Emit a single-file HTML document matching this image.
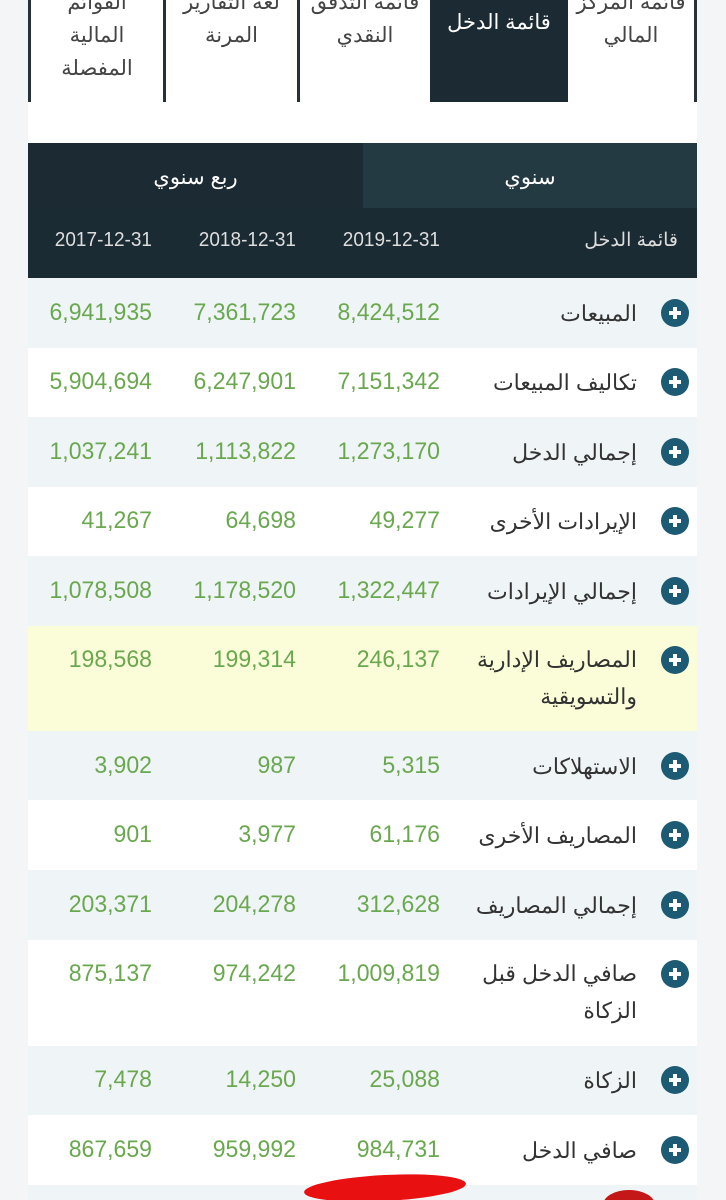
<!DOCTYPE html>
<html style="overflow:hidden;height:1200px"><head><meta charset="utf-8"><style>
body{margin:0;width:726px;height:1200px;background:#f4f5f6;position:relative;overflow:hidden;font-family:"Liberation Sans","Noto Sans CJK SC",sans-serif;}
.a{position:absolute;}
.content{left:28px;top:0;width:669px;height:1200px;background:#fff;}
.tab{position:absolute;top:-14px;height:114px;text-align:center;color:#444;font-size:21px;line-height:33px;}
.div{position:absolute;top:0;width:3px;height:102px;background:#263238;}
.row{position:absolute;left:28px;width:669px;}
.n{position:absolute;color:#6aa84f;font-size:24px;text-align:right;width:140px;transform:scaleX(0.96);transform-origin:right center;}
.lb{position:absolute;right:89px;color:#333;font-size:22px;text-align:right;direction:rtl;line-height:37px;}
.ic{position:absolute;left:661px;width:28px;height:28px;border-radius:50%;background:#1d5a73;}
.ic:before{content:"";position:absolute;left:8px;top:12px;width:12px;height:4px;background:#fff;}
.ic:after{content:"";position:absolute;left:12px;top:8px;width:4px;height:12px;background:#fff;}
.d{position:absolute;top:229px;width:140px;text-align:right;color:#ddd;font-size:20px;transform:scaleX(0.95);transform-origin:right center;}
</style></head><body>
<div class="a content"></div>
<div class="div" style="left:28px"></div>
<div class="div" style="left:163px"></div>
<div class="div" style="left:297px"></div>
<div class="div" style="left:694px"></div>
<div class="a" style="left:430px;top:0;width:138px;height:102px;background:#1c2b33"></div>
<div class="tab" style="left:31px;width:132px">القوائم<br>المالية<br>المفصلة</div>
<div class="tab" style="left:166px;width:131px">لغة التقارير<br>المرنة</div>
<div class="tab" style="left:300px;width:130px">قائمة التدفق<br>النقدي</div>
<div class="tab" style="left:430px;width:138px;color:#fff;top:6px">قائمة الدخل</div>
<div class="tab" style="left:568px;width:126px">قائمة المركز<br>المالي</div>

<div class="a" style="left:28px;top:143px;width:335px;height:65px;background:#1c2b33;color:#fff;font-size:21px;text-align:center;line-height:70px">ربع سنوي</div>
<div class="a" style="left:363px;top:143px;width:334px;height:65px;background:#243a43;color:#fff;font-size:21px;text-align:center;line-height:70px">سنوي</div>
<div class="a" style="left:28px;top:208px;width:669px;height:70px;background:#1b2b33"></div>
<div class="d" style="left:12px">2017-12-31</div>
<div class="d" style="left:156px">2018-12-31</div>
<div class="d" style="left:300px">2019-12-31</div>
<div class="a" style="left:520px;top:229px;width:158px;text-align:right;color:#ddd;font-size:19px">قائمة الدخل</div>

<div class="row" style="top:278px;height:70px;background:#eff4f6"></div>
<div class="row" style="top:417px;height:70px;background:#eff4f6"></div>
<div class="row" style="top:556px;height:70px;background:#eff4f6"></div>
<div class="row" style="top:626px;height:105px;background:#fbfdd8"></div>
<div class="row" style="top:731px;height:69px;background:#eff4f6"></div>
<div class="row" style="top:870px;height:70px;background:#eff4f6"></div>
<div class="row" style="top:1046px;height:69px;background:#eff4f6"></div>
<div class="row" style="top:1185px;height:15px;background:#eff4f6"></div>

<div class="n" style="left:12px;top:299px">6,941,935</div><div class="n" style="left:156px;top:299px">7,361,723</div><div class="n" style="left:300px;top:299px">8,424,512</div><div class="lb" style="top:295px">المبيعات</div><div class="ic" style="top:299px"></div>
<div class="n" style="left:12px;top:368px">5,904,694</div><div class="n" style="left:156px;top:368px">6,247,901</div><div class="n" style="left:300px;top:368px">7,151,342</div><div class="lb" style="top:364px">تكاليف المبيعات</div><div class="ic" style="top:368px"></div>
<div class="n" style="left:12px;top:438px">1,037,241</div><div class="n" style="left:156px;top:438px">1,113,822</div><div class="n" style="left:300px;top:438px">1,273,170</div><div class="lb" style="top:434px">إجمالي الدخل</div><div class="ic" style="top:438px"></div>
<div class="n" style="left:12px;top:507px">41,267</div><div class="n" style="left:156px;top:507px">64,698</div><div class="n" style="left:300px;top:507px">49,277</div><div class="lb" style="top:503px">الإيرادات الأخرى</div><div class="ic" style="top:507px"></div>
<div class="n" style="left:12px;top:577px">1,078,508</div><div class="n" style="left:156px;top:577px">1,178,520</div><div class="n" style="left:300px;top:577px">1,322,447</div><div class="lb" style="top:573px">إجمالي الإيرادات</div><div class="ic" style="top:577px"></div>
<div class="n" style="left:12px;top:646px">198,568</div><div class="n" style="left:156px;top:646px">199,314</div><div class="n" style="left:300px;top:646px">246,137</div><div class="lb" style="top:641px">المصاريف الإدارية<br>والتسويقية</div><div class="ic" style="top:646px"></div>
<div class="n" style="left:12px;top:752px">3,902</div><div class="n" style="left:156px;top:752px">987</div><div class="n" style="left:300px;top:752px">5,315</div><div class="lb" style="top:748px">الاستهلاكات</div><div class="ic" style="top:752px"></div>
<div class="n" style="left:12px;top:821px">901</div><div class="n" style="left:156px;top:821px">3,977</div><div class="n" style="left:300px;top:821px">61,176</div><div class="lb" style="top:817px">المصاريف الأخرى</div><div class="ic" style="top:821px"></div>
<div class="n" style="left:12px;top:891px">203,371</div><div class="n" style="left:156px;top:891px">204,278</div><div class="n" style="left:300px;top:891px">312,628</div><div class="lb" style="top:887px">إجمالي المصاريف</div><div class="ic" style="top:891px"></div>
<div class="n" style="left:12px;top:960px">875,137</div><div class="n" style="left:156px;top:960px">974,242</div><div class="n" style="left:300px;top:960px">1,009,819</div><div class="lb" style="top:955px">صافي الدخل قبل<br>الزكاة</div><div class="ic" style="top:960px"></div>
<div class="n" style="left:12px;top:1066px">7,478</div><div class="n" style="left:156px;top:1066px">14,250</div><div class="n" style="left:300px;top:1066px">25,088</div><div class="lb" style="top:1062px">الزكاة</div><div class="ic" style="top:1066px"></div>
<div class="n" style="left:12px;top:1136px">867,659</div><div class="n" style="left:156px;top:1136px">959,992</div><div class="n" style="left:300px;top:1136px">984,731</div><div class="lb" style="top:1132px">صافي الدخل</div><div class="ic" style="top:1136px"></div>

<div class="a" style="left:0;top:1170px;width:726px;height:30px;overflow:hidden">
<div class="a" style="left:304px;top:5px;width:162px;height:26px;border-radius:50%;background:#e81010;transform:rotate(-3deg)"></div>
<div class="a" style="left:603px;top:20px;width:52px;height:30px;border-radius:50%;background:#c41818"></div>
</div>
</body></html>
